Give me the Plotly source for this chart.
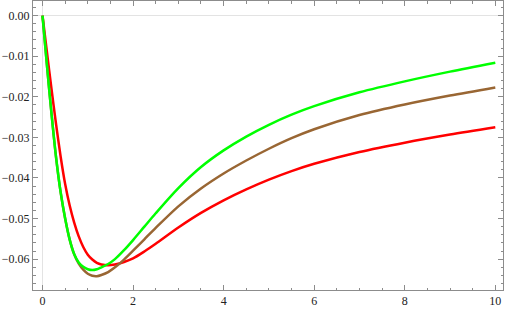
import plotly.graph_objects as go

x_green = [0, 0.1, 0.2, 0.3, 0.4, 0.5, 0.6, 0.7, 0.8, 0.9, 1.0, 1.1, 1.2, 1.3, 1.45, 1.6, 1.8,
           2.0, 2.25, 2.5, 3.0, 3.5, 4.0, 4.5, 5.0, 5.5, 6.0, 7.0, 8.0, 9.0, 10.0]
y_green = [0, -0.0125, -0.0243, -0.0350, -0.0435, -0.0500, -0.0552, -0.0588, -0.0608, -0.0619,
           -0.0625, -0.0627, -0.0625, -0.0620, -0.0612, -0.0600, -0.0578, -0.0553, -0.0520,
           -0.0487, -0.0425, -0.0373, -0.0332, -0.0298, -0.0269, -0.0244, -0.0223, -0.0189,
           -0.0162, -0.0138, -0.0116]

x_brown = [0, 0.1, 0.2, 0.3, 0.4, 0.5, 0.6, 0.7, 0.8, 0.9, 1.0, 1.1, 1.2, 1.3, 1.45, 1.67, 1.8,
           2.0, 2.25, 2.5, 3.0, 3.5, 4.0, 4.5, 5.0, 5.5, 6.0, 7.0, 8.0, 9.0, 10.0]
y_brown = [0, -0.0125, -0.0243, -0.0350, -0.0435, -0.0500, -0.0552, -0.0588, -0.0611, -0.0626,
           -0.0636, -0.0641, -0.0642, -0.0639, -0.0632, -0.0614, -0.0601, -0.0579, -0.0551,
           -0.0523, -0.0470, -0.0426, -0.0389, -0.0357, -0.0328, -0.0302, -0.0280, -0.0245,
           -0.0219, -0.0197, -0.0177]

x_red = [0, 0.1, 0.2, 0.3, 0.4, 0.5, 0.6, 0.7, 0.8, 0.9, 1.0, 1.1, 1.2, 1.3, 1.45, 1.6, 1.8,
         2.0, 2.25, 2.5, 3.0, 3.5, 4.0, 4.5, 5.0, 5.5, 6.0, 7.0, 8.0, 9.0, 10.0]
y_red = [0, -0.0092, -0.0182, -0.0268, -0.0347, -0.0415, -0.0468, -0.0510, -0.0544, -0.0570,
         -0.0589, -0.0601, -0.0609, -0.0613, -0.0615, -0.0613, -0.0607, -0.0598, -0.0581,
         -0.0562, -0.0522, -0.0486, -0.0455, -0.0428, -0.0404, -0.0383, -0.0365, -0.0336,
         -0.0313, -0.0293, -0.0275]

x_ticks = [0, 2, 4, 6, 8, 10]
y_ticks = [0.0, -0.01, -0.02, -0.03, -0.04, -0.05, -0.06]

fig = go.Figure()
for xs, ys, col in [(x_red, y_red, "#ff0000"), (x_brown, y_brown, "#996633"),
                    (x_green, y_green, "#00ff00")]:
    fig.add_trace(go.Scatter(x=xs, y=ys, mode="lines",
                             line=dict(color=col, width=2.5, shape="spline", smoothing=0.8),
                             showlegend=False, hoverinfo="skip"))

frame = "#8c8c8c"
font = dict(family="Times New Roman, Liberation Serif, serif", size=12, color="#222222")
fig.update_layout(
    width=506, height=311,
    margin=dict(l=33, r=3, t=1, b=21),
    paper_bgcolor="white", plot_bgcolor="white",
    font=font,
)
fig.update_xaxes(
    range=[-0.21, 10.17], tickvals=x_ticks, ticktext=[str(v) for v in x_ticks],
    automargin=False,
    showgrid=False, zeroline=True, zerolinecolor="#e3e3e3", zerolinewidth=1.2,
    showline=True, linecolor=frame, linewidth=1, mirror="allticks",
    ticks="inside", ticklen=5, tickcolor=frame, tickwidth=1,
    minor=dict(dtick=0.5, tick0=0, ticks="inside", ticklen=2.5, tickcolor=frame, showgrid=False),
    tickfont=font,
)
fig.update_yaxes(
    range=[-0.0676, 0.0036], tickvals=y_ticks,
    ticktext=["0.00"] + ["\u2212%.2f" % abs(v) for v in y_ticks[1:]],
    automargin=False,
    showgrid=False, zeroline=True, zerolinecolor="#e3e3e3", zerolinewidth=1.2,
    showline=True, linecolor=frame, linewidth=1, mirror="allticks",
    ticks="inside", ticklen=5, tickcolor=frame, tickwidth=1,
    minor=dict(dtick=0.002, tick0=0, ticks="inside", ticklen=2.5, tickcolor=frame, showgrid=False),
    tickfont=font,
)
fig.write_html("out.html", config={"displayModeBar": False},
               post_script="document.body.style.margin='0';document.body.style.overflow='hidden';")
